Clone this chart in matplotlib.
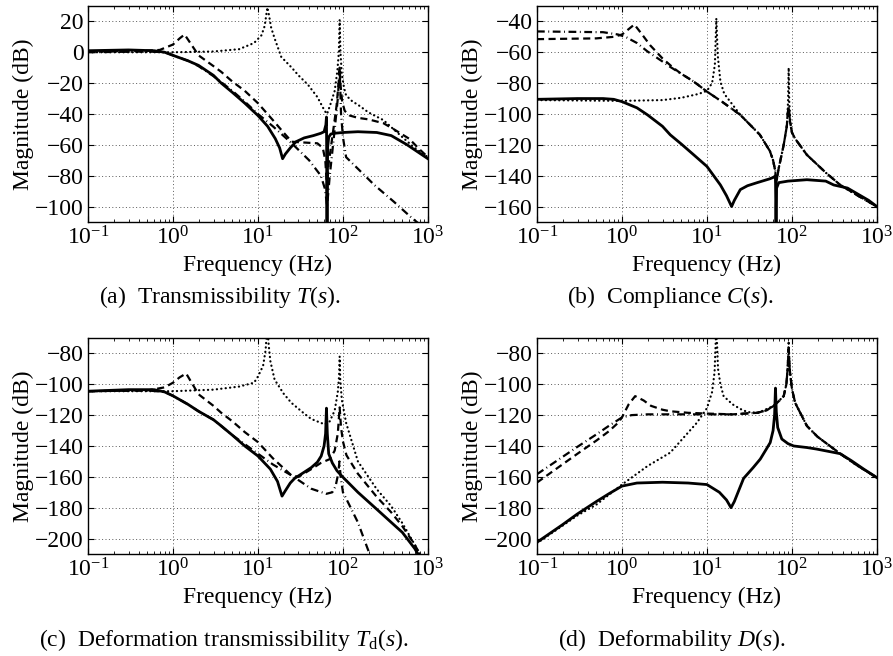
import matplotlib
matplotlib.use("Agg")
import matplotlib.pyplot as plt
import numpy as np

plt.rcParams['font.family'] = ['Liberation Serif', 'DejaVu Serif']
plt.rcParams['mathtext.fontset'] = 'custom'
plt.rcParams['mathtext.rm'] = 'Liberation Serif'
plt.rcParams['mathtext.it'] = 'Liberation Serif:italic'
plt.rcParams['font.size'] = 17

# ==========================================
# (a) Transmissibility T(s)
# ==========================================
f_T_solid = [0.1, 0.3, 0.6, 0.8, 1.0, 1.5, 2.0, 3.0, 3.7, 5.0, 7.0, 10, 13, 16, 18, 19.5, 21, 24, 28, 35, 45, 55, 60, 63, 64, 64.6, 65, 65.4, 66, 68, 72, 80, 100, 150, 250, 370, 570, 1000]
T_solid = [1.0, 1.5, 1.0, 0.0, -2.0, -5.5, -8.5, -15, -20, -26, -33, -41, -48, -56, -62, -69, -66, -62, -58, -55.5, -54, -52.5, -51.5, -47, -42, -80, -125, -80, -62, -55, -53, -52.5, -52, -51.5, -52, -54, -60, -69]

f_T_dash = [0.1, 0.4, 0.7, 1.0, 1.2, 1.37, 1.6, 2.0, 3.0, 3.7, 5.0, 7.0, 10, 15, 20, 25, 35, 50, 58, 62, 64.5, 65, 65.5, 68, 75, 84, 89, 91.5, 94, 98, 105, 120, 150, 200, 300, 400, 600, 800, 1000]
T_dash = [0.5, 0.8, 1.5, 5.0, 9.0, 11.5, 6.0, -2.0, -9.0, -12.7, -19, -25, -33, -44, -52, -58, -58.5, -59, -62, -70, -85, -95, -85, -72, -55, -35, -20, -10, -22, -32, -38, -41, -42.5, -43.5, -46, -50, -56, -63, -68]

f_T_dot = [0.1, 1.0, 3.0, 6.0, 9.0, 11, 12, 12.9, 13.5, 14.3, 15.7, 18.8, 25, 30, 38.7, 50, 61, 65, 72, 80, 86, 89.5, 91.5, 93.5, 97, 103, 109, 130, 150, 200, 300, 500, 700, 1000]
T_dot = [0.0, 0.0, 0.5, 2.0, 6.0, 11, 17, 29, 24, 16, 9, -3, -10, -15, -21, -29, -38, -40, -33, -25, -12, 0, 21, 0, -14, -23, -28, -32, -34, -39, -44, -55, -62, -68]

f_T_dd = [0.1, 0.5, 0.8, 1.0, 1.5, 2.0, 3.0, 5.0, 7.0, 10, 15, 25, 40, 55, 61, 64, 65, 66, 70, 80, 87, 91.5, 95, 100, 109, 150, 234, 400, 635, 1000]
T_dd = [0.0, 0.5, 0.0, -2.0, -5.5, -9.0, -15.5, -25, -32, -40, -48, -59, -70, -80, -88, -96, -100, -96, -80, -50, -30, -10, -40, -55, -68, -75.5, -86, -97, -107, -116]

# ==========================================
# (b) Compliance C(s)
# ==========================================
f_C_solid = [0.1, 0.3, 0.6, 0.8, 1.0, 1.5, 2.0, 3.0, 3.7, 5.0, 7.0, 10, 12, 14.4, 17, 19.5, 21, 24.7, 30, 39, 55, 61, 64, 64.6, 65, 65.4, 66, 70, 90, 150, 250, 310, 450, 600, 800, 1000]
C_solid = [-90.5, -90, -90, -90.5, -92, -96, -100.6, -108, -113.5, -119.5, -126.5, -134, -140, -146, -153, -160, -156, -149, -146.5, -144.5, -142, -141, -140, -160, -185, -160, -148, -144.5, -143.5, -142.6, -143.5, -146, -148, -152, -156, -160]

f_C_dash = [0.1, 0.5, 0.8, 1.0, 1.2, 1.4, 1.7, 2.15, 3.0, 4.0, 5.0, 7.0, 10, 15, 24.7, 42, 55, 60, 63.7, 65, 66.5, 70, 80, 87, 91, 95, 100, 109, 150, 250, 370, 600, 1000]
C_dash = [-51.5, -51, -50, -48.5, -45, -42, -48, -55.5, -64, -70, -74, -79, -85.5, -92, -100.6, -113.5, -124, -130, -137, -146, -142, -135, -120, -108, -95, -105, -112, -116, -126.5, -138, -146, -153, -160]

f_C_dot = [0.1, 1.0, 3.0, 5.0, 8.0, 10, 11.5, 12.4, 12.9, 13.4, 14.4, 16, 18.8, 24.7, 42, 55, 60, 63.7, 65, 66.5, 70, 80, 87, 90, 91.5, 93, 96, 100, 109, 150, 250, 370, 600, 1000]
C_dot = [-91, -91.5, -91, -89.5, -87, -85, -80, -68, -38, -62, -79, -87, -92, -100.6, -113.5, -124, -130, -137, -146, -142, -135, -120, -108, -92, -70, -92, -105, -112, -116, -126.5, -138, -146, -153, -160]

f_C_dd = [0.1, 0.6, 0.9, 1.1, 1.5, 2.0, 3.0, 3.7, 5.0, 7.0, 10, 15, 24.7, 42, 55, 60, 63.7, 65, 66.5, 70, 80, 87, 91, 95, 100, 109, 150, 250, 370, 600, 1000]
C_dd = [-46.5, -47, -48.5, -50, -54, -59.5, -66, -69.5, -74, -79, -85.5, -92, -100.6, -113.5, -124, -130, -137, -146, -142, -135, -120, -108, -95, -105, -112, -116, -126.5, -138, -146, -153, -160]

# ==========================================
# (c) Deformation transmissibility Td(s)
# ==========================================
f_Td_solid = [0.1, 0.3, 0.6, 0.8, 1.0, 1.5, 2.0, 3.0, 3.7, 5.0, 7.0, 10, 14, 17, 19.2, 21, 24, 27, 35, 42.4, 50, 55.5, 60, 62.5, 64, 65.5, 68, 75, 85, 97, 150, 250, 370, 500, 700, 800]
Td_solid = [-104.5, -103.5, -103.5, -105, -107.5, -113, -117.5, -123, -127, -133, -140, -146.5, -155, -163, -172.5, -169, -164, -161, -157, -154, -150.5, -146.5, -140, -132, -115.5, -132, -145, -151, -156, -159.5, -170, -181, -189.5, -196, -206.5, -212]

f_Td_dash = [0.1, 0.5, 0.8, 1.0, 1.2, 1.43, 1.7, 2.0, 3.0, 3.7, 5.0, 7.0, 10, 15, 24.7, 30, 42.4, 55, 70, 80, 87, 91.5, 95, 100, 110, 150, 250, 370, 500, 700, 800]
Td_dash = [-104.5, -104, -102, -99, -95.5, -93, -100, -106.5, -114, -118.5, -124, -131, -137.5, -148, -159, -160, -155, -151, -148.5, -143, -132, -115, -128, -137, -146, -158, -173, -183, -192, -204, -210]

f_Td_dot = [0.1, 1.0, 3.0, 6.0, 9.0, 10, 11.5, 12.3, 12.9, 13.4, 14, 15.7, 20, 24.7, 35, 42.4, 55, 61, 70, 80, 87, 90, 91.5, 93, 97, 109, 150, 250, 370, 500, 700, 800]
Td_dot = [-104.5, -104.5, -103.5, -101.5, -99, -95, -88, -78, -62, -75, -85, -97, -106, -112, -119, -122.5, -125, -126, -124, -117, -105, -95, -82, -97, -110, -125, -150, -168, -179, -190, -204, -210]

f_Td_dd = [0.1, 0.5, 0.8, 1.0, 1.5, 2.0, 3.0, 5.0, 10, 15, 24.7, 42.4, 63.7, 75, 82, 88, 91, 94, 100, 109, 150, 195, 220]
Td_dd = [-104.5, -104, -105, -107.5, -113, -117.5, -123, -133, -145, -152, -159, -167.7, -171, -170, -166, -158, -150, -160, -170, -174, -189.5, -206.5, -214]

# ==========================================
# (d) Deformability D(s)
# ==========================================
f_D_solid = [0.1, 0.2, 0.3, 0.5, 0.7, 1.0, 1.5, 3.0, 6.0, 10, 14, 17, 19.2, 21, 24, 27, 35, 42.4, 50, 55.5, 60, 62.5, 64, 65.5, 68, 76, 90, 105, 150, 195, 300, 370, 500, 700, 1000]
D_solid = [-202.4, -191, -184, -176, -171, -166, -164, -163.5, -164, -165, -170, -175, -180, -176, -168, -161, -154, -148.5, -142, -137.8, -130, -120, -102.5, -118, -128, -135.5, -138.5, -140, -141, -142, -144, -145, -149.5, -155, -160.5]

f_D_dash = [0.1, 0.3, 0.5, 0.7, 0.9, 1.0, 1.2, 1.43, 1.8, 2.2, 3.0, 3.7, 6.0, 10, 20, 38.8, 50, 61, 70, 80, 86, 89, 91.5, 94, 100, 109, 150, 200, 370, 600, 1000]
D_dash = [-163.7, -145, -136.5, -130.5, -125, -121.5, -113, -107.7, -110.5, -114, -116.5, -117.5, -118.5, -119, -119.5, -118.5, -117, -114, -111, -107.7, -100, -90, -77, -90, -103, -112, -127, -134, -145, -153, -160.5]

f_D_dot = [0.1, 0.3, 0.5, 1.0, 1.5, 2.0, 3.7, 7.6, 10, 11.5, 12.3, 12.9, 13.5, 14.4, 15.7, 20, 24.7, 30, 40, 61, 80, 86, 89, 91.5, 94, 100, 109, 150, 200, 370, 600, 1000]
D_dot = [-203, -185, -178, -165, -158, -153, -144.3, -125, -115.5, -105, -92, -62, -90, -100, -107.7, -113, -116, -118, -118.5, -114, -107.7, -100, -90, -72, -90, -103, -112, -127, -134, -145, -153, -160.5]

f_D_dd = [0.1, 0.3, 0.5, 0.7, 1.0, 1.3, 2.0, 5.0, 10, 20, 38.8, 50, 61, 70, 80, 86, 89, 91.5, 94, 100, 109, 150, 200, 370, 600, 1000]
D_dd = [-158.3, -140.5, -132.5, -127, -121.5, -120, -119.5, -119.5, -119.5, -119.5, -118.5, -117, -114, -111, -107.7, -100, -90, -77, -90, -103, -112, -127, -134, -145, -153, -160.5]

panels = [
    dict(curves=[(f_T_dash, T_dash), (f_T_dot, T_dot), (f_T_dd, T_dd), (f_T_solid, T_solid)],
         ylim=(-110, 30), yticks=np.arange(-100, 21, 20),
         pos=[0.0985, 0.6616, 0.3807, 0.3293],
         caption=r'(a)  Transmissibility $T(s)$.', cap_xy=(0.246, 0.547)),
    dict(curves=[(f_C_dash, C_dash), (f_C_dot, C_dot), (f_C_dd, C_dd), (f_C_solid, C_solid)],
         ylim=(-170, -30), yticks=np.arange(-160, -39, 20),
         pos=[0.6013, 0.6616, 0.3807, 0.3293],
         caption=r'(b)  Compliance $C(s)$.', cap_xy=(0.750, 0.547)),
    dict(curves=[(f_Td_dash, Td_dash), (f_Td_dot, Td_dot), (f_Td_dd, Td_dd), (f_Td_solid, Td_solid)],
         ylim=(-210, -70), yticks=np.arange(-200, -79, 20),
         pos=[0.0985, 0.1555, 0.3807, 0.3293],
         caption=r'(c)  Deformation transmissibility $T_{\mathrm{d}}(s)$.', cap_xy=(0.250, 0.024)),
    dict(curves=[(f_D_dash, D_dash), (f_D_dot, D_dot), (f_D_dd, D_dd), (f_D_solid, D_solid)],
         ylim=(-210, -70), yticks=np.arange(-200, -79, 20),
         pos=[0.6013, 0.1555, 0.3807, 0.3293],
         caption=r'(d)  Deformability $D(s)$.', cap_xy=(0.752, 0.024)),
]

styles = [
    dict(color='black', linewidth=1.6, linestyle=(0, (3.2, 2.0))),
    dict(color='black', linewidth=1.6, linestyle=(0, (0.1, 1.9)), dash_capstyle='round'),
    dict(color='black', linewidth=1.6, linestyle=(0, (3.5, 1.6, 0.4, 1.6))),
    dict(color='black', linewidth=2.0, linestyle='-'),
]

fig = plt.figure(figsize=(8.93, 6.56), dpi=100)

for p in panels:
    ax = fig.add_axes(p['pos'])
    for (f, m), st in zip(p['curves'], styles):
        ax.semilogx(f, m, **st)
    ax.set_xlim(0.1, 1000)
    ax.set_ylim(*p['ylim'])
    ax.set_yticks(p['yticks'])
    ax.set_xticks([0.1, 1, 10, 100, 1000])
    ax.grid(True, which='major', linestyle=(0, (1, 2.5)), color='0.35', linewidth=0.7)
    ax.tick_params(which='both', direction='in', top=True, right=True, labelsize=17, pad=3)
    ax.tick_params(which='major', length=4, width=0.8)
    ax.tick_params(which='minor', length=2.2, width=0.6)
    for s in ax.spines.values():
        s.set_linewidth(1.0)
    ax.set_xlabel('Frequency (Hz)', labelpad=4)
    ax.set_ylabel('Magnitude (dB)')
    ax.yaxis.set_label_coords(-0.16, 0.5)
    fig.text(p['cap_xy'][0], p['cap_xy'][1], p['caption'], ha='center', va='center', fontsize=17)

fig.savefig('out.png', dpi=100)
